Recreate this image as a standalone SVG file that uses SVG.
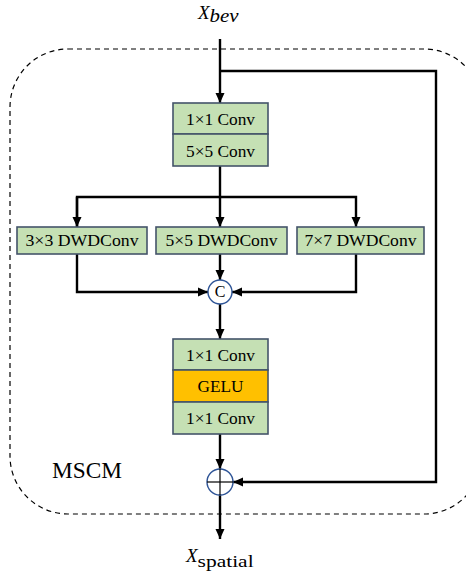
<svg xmlns="http://www.w3.org/2000/svg" width="466" height="582" viewBox="0 0 466 582">
<defs>
<marker id="ah" markerUnits="userSpaceOnUse" markerWidth="10" markerHeight="10" viewBox="0 0 10 10" refX="10" refY="5" orient="auto">
<path d="M0,0.5 L10,5 L0,9.5 Z" fill="#000"/>
</marker>
<style>
.ln{fill:none;stroke:#000;stroke-width:2.4}
.bx{fill:#c5e0b4;stroke:#44546a;stroke-width:1.6}
.gl{fill:#ffc000;stroke:#44546a;stroke-width:1.6}
.t{font-family:"Liberation Serif",serif;font-size:16px;fill:#000;text-anchor:middle}
.op{fill:#fff;stroke:#2f5597;stroke-width:1.4}
.m{font-family:"Liberation Serif",serif;fill:#000}
</style>
</defs>
<rect x="10" y="49" width="472" height="465" rx="58" ry="58" fill="none" stroke="#000" stroke-width="1.2" stroke-dasharray="5,4"/>
<g id="connectors">
<line class="ln" x1="220" y1="39" x2="220" y2="103" marker-end="url(#ah)"/>
<polyline class="ln" points="220,71 436,71 436,482 233,482" marker-end="url(#ah)" stroke-width="2"/>
<line class="ln" x1="220" y1="166" x2="220" y2="227" marker-end="url(#ah)"/>
<polyline class="ln" points="77,227 77,197 356,197 356,227" marker-end="url(#ah)"/>
<line class="ln" x1="77" y1="197" x2="77" y2="227" marker-end="url(#ah)"/>
<polyline class="ln" points="77,254 77,292 208,292" marker-end="url(#ah)"/>
<polyline class="ln" points="356,254 356,292 232,292" marker-end="url(#ah)"/>
<line class="ln" x1="220" y1="254" x2="220" y2="280" marker-end="url(#ah)"/>
<line class="ln" x1="220" y1="304" x2="220" y2="339" marker-end="url(#ah)"/>
<line class="ln" x1="220" y1="434" x2="220" y2="469" marker-end="url(#ah)"/>
<line class="ln" x1="220" y1="495" x2="220" y2="539" marker-end="url(#ah)"/>
</g>
<g id="input"><text class="m" x="198" y="19" font-size="19" font-style="italic">X<tspan font-size="18" dy="3" textLength="29" lengthAdjust="spacingAndGlyphs">bev</tspan></text></g>
<g id="conv_top">
<rect class="bx" x="173" y="103" width="95" height="31"/>
<rect class="bx" x="173" y="134" width="95" height="32"/>
<text class="t" x="220.5" y="125" textLength="69" lengthAdjust="spacingAndGlyphs">1×1 Conv</text>
<text class="t" x="220.5" y="157" textLength="69" lengthAdjust="spacingAndGlyphs">5×5 Conv</text>
</g>
<g id="dw3">
<rect class="bx" x="17" y="227" width="130" height="27"/>
<text class="t" x="82" y="246" textLength="113" lengthAdjust="spacingAndGlyphs">3×3 DWDConv</text>
</g>
<g id="dw5">
<rect class="bx" x="156" y="227" width="131" height="27"/>
<text class="t" x="221.5" y="246" textLength="112" lengthAdjust="spacingAndGlyphs">5×5 DWDConv</text>
</g>
<g id="dw7">
<rect class="bx" x="297" y="227" width="127" height="27"/>
<text class="t" x="360.5" y="246" textLength="112" lengthAdjust="spacingAndGlyphs">7×7 DWDConv</text>
</g>
<g id="concat">
<circle class="op" cx="220" cy="292" r="12"/>
<text class="t" x="220" y="297" font-size="14">C</text>
</g>
<g id="mlp">
<rect class="bx" x="173" y="339" width="95" height="31"/>
<rect class="gl" x="173" y="370" width="95" height="32"/>
<rect class="bx" x="173" y="402" width="95" height="32"/>
<text class="t" x="220.5" y="361" textLength="69" lengthAdjust="spacingAndGlyphs">1×1 Conv</text>
<text class="t" x="220.5" y="392" textLength="46" lengthAdjust="spacingAndGlyphs">GELU</text>
<text class="t" x="220.5" y="424" textLength="69" lengthAdjust="spacingAndGlyphs">1×1 Conv</text>
</g>
<g id="add">
<circle class="op" cx="220" cy="482" r="13"/>
<line x1="207" y1="482" x2="233" y2="482" stroke="#000" stroke-width="1.2"/>
<line x1="220" y1="469" x2="220" y2="495" stroke="#000" stroke-width="1.2"/>
</g>
<g id="label"><text class="m" x="52" y="478" font-size="23" textLength="70" lengthAdjust="spacingAndGlyphs">MSCM</text></g>
<g id="output"><text class="m" x="186" y="562" font-size="19" font-style="italic">X<tspan font-size="17" font-style="normal" dy="5" textLength="56" lengthAdjust="spacingAndGlyphs">spatial</tspan></text></g>
</svg>
